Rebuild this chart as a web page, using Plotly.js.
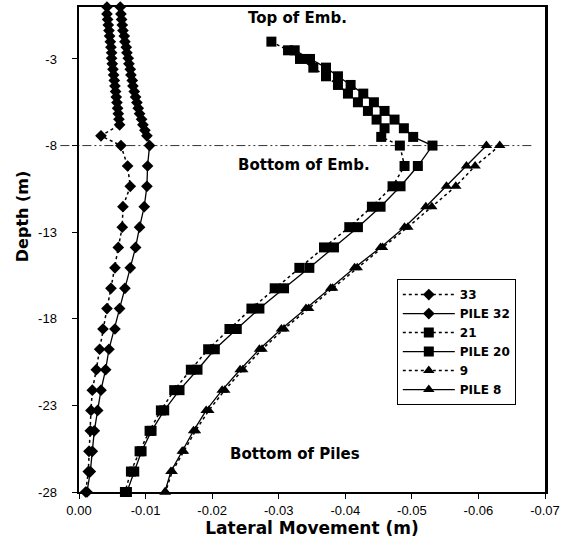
<!DOCTYPE html>
<html><head><meta charset="utf-8">
<script src="https://cdn.plot.ly/plotly-3.0.1.min.js"></script>
<style>html,body{margin:0;padding:0;background:#fff;}#chart{width:568px;height:540px;}</style>
</head><body><div id="chart"></div>
<script>
// ---- data (depth in m, lateral movement in m) ----
const pileDepths = [-8, -9.18, -10.35, -11.53, -12.71, -13.88, -15.06, -16.24, -17.41, -18.59, -19.76, -20.94, -22.12, -23.29, -24.47, -25.65, -26.82, -28];

const embDepth33 = [0, -0.4, -0.72, -1.04, -1.36, -1.68, -2.0, -2.32, -2.64, -2.96, -3.28, -3.6, -3.92, -4.24, -4.56, -4.88, -5.2, -5.52, -5.84, -6.16, -6.48, -6.8, -7.44];
const move33 = [-0.0042, -0.0042, -0.0043, -0.0044, -0.0045, -0.0046, -0.0047, -0.0048, -0.0049, -0.0049, -0.0050, -0.0051, -0.0052, -0.0053, -0.0054, -0.0055, -0.0056, -0.0057, -0.0058, -0.0059, -0.0060, -0.0061, -0.0033,
  -0.0063, -0.0073, -0.0077, -0.0066, -0.0065, -0.0059, -0.0054, -0.0048, -0.0042, -0.0036, -0.0031, -0.0026, -0.0020, -0.0018, -0.0017, -0.0015, -0.0014, -0.0010];

const embDepth32 = [0, -0.4, -0.72, -1.04, -1.36, -1.68, -2.0, -2.32, -2.64, -2.96, -3.28, -3.6, -3.92, -4.24, -4.56, -4.88, -5.2, -5.52, -5.84, -6.16, -6.48, -6.8, -7.12, -7.44];
const move32 = [-0.0062, -0.0063, -0.0064, -0.0065, -0.0066, -0.0068, -0.0069, -0.0071, -0.0072, -0.0074, -0.0075, -0.0077, -0.0078, -0.0080, -0.0081, -0.0083, -0.0085, -0.0087, -0.0089, -0.0091, -0.0094, -0.0096, -0.0099, -0.0102,
  -0.0106, -0.0103, -0.0102, -0.0098, -0.0091, -0.0085, -0.0077, -0.0069, -0.0061, -0.0054, -0.0045, -0.0040, -0.0033, -0.0028, -0.0023, -0.0020, -0.0017, -0.0012];

const embDepth21 = [-2, -2.5, -3, -3.5, -4, -4.5, -5, -5.5, -6, -6.5, -7, -7.5];
const move21 = [-0.0289, -0.0314, -0.0332, -0.0352, -0.0371, -0.0389, -0.0404, -0.0419, -0.0434, -0.0447, -0.0459, -0.0454,
  -0.0482, -0.0489, -0.0471, -0.0440, -0.0406, -0.0368, -0.0331, -0.0294, -0.0259, -0.0226, -0.0194, -0.0168, -0.0143, -0.0123, -0.0106, -0.0091, -0.0078, -0.0069];

const embDepth20 = [-2.5, -3, -3.5, -4, -4.5, -5, -5.5, -6, -6.5, -7, -7.5];
const move20 = [-0.0324, -0.0347, -0.0371, -0.0389, -0.0408, -0.0427, -0.0443, -0.0459, -0.0474, -0.0488, -0.0502,
  -0.0531, -0.0509, -0.0483, -0.0453, -0.0419, -0.0383, -0.0346, -0.0308, -0.0271, -0.0237, -0.0204, -0.0178, -0.0151, -0.0128, -0.0109, -0.0094, -0.0083, -0.0072];

const move9 = [-0.0632, -0.0595, -0.0566, -0.0530, -0.0494, -0.0456, -0.0418, -0.0381, -0.0345, -0.0308, -0.0275, -0.0246, -0.0219, -0.0195, -0.0175, -0.0157, -0.0140, -0.0130];
const move8 = [-0.0612, -0.0582, -0.0552, -0.0521, -0.0489, -0.0453, -0.0414, -0.0378, -0.0341, -0.0304, -0.0271, -0.0242, -0.0215, -0.0191, -0.0172, -0.0155, -0.0138, -0.0129];

const seriesNames = ['33', 'PILE 32', '21', 'PILE 20', '9', 'PILE 8'];
const xTickVals = [0, -0.01, -0.02, -0.03, -0.04, -0.05, -0.06, -0.07];
const xTickText = ['0.00', '-0.01', '-0.02', '-0.03', '-0.04', '-0.05', '-0.06', '-0.07'];
const yTickVals = [-3, -8, -13, -18, -23, -28];
const yTickText = ['-3', '-8', '-13', '-18', '-23', '-28'];
const embBottomDepth = -8;

// ---- traces ----
function tr(name, x, y, symbol, size, dash, width) {
  return {
    type: 'scatter', mode: 'lines+markers', name: name, x: x, y: y, cliponaxis: false,
    line: {color: '#000', width: width, dash: dash},
    marker: {symbol: symbol, size: size, color: '#000'}
  };
}
const data = [
  tr(seriesNames[0], move33, embDepth33.concat(pileDepths), 'diamond', 9, 'dot', 1.5),
  tr(seriesNames[1], move32, embDepth32.concat(pileDepths), 'diamond', 9, 'solid', 1.3),
  tr(seriesNames[2], move21, embDepth21.concat(pileDepths), 'square', 10, 'dot', 1.5),
  tr(seriesNames[3], move20, embDepth20.concat(pileDepths), 'square', 10, 'solid', 1.3),
  tr(seriesNames[4], move9, pileDepths, 'triangle-up', 10, 'dot', 1.5),
  tr(seriesNames[5], move8, pileDepths, 'triangle-up', 10, 'solid', 1.3)
];

const boldFont = {family: 'DejaVu Sans', size: 15, color: '#000', weight: 700};
function note(text, x, y, font, angle) {
  return {text: text, xref: 'paper', yref: 'paper', x: x, y: y, xanchor: 'center', yanchor: 'middle',
          showarrow: false, font: font, textangle: angle || 0};
}
const layout = {
  width: 568, height: 540,
  margin: {l: 79, r: 23, t: 7, b: 48},
  paper_bgcolor: '#fff', plot_bgcolor: '#fff',
  showlegend: true, hovermode: false,
  font: {family: 'Liberation Sans', size: 13, color: '#000'},
  xaxis: {
    range: [0, -0.07], tickvals: xTickVals, ticktext: xTickText,
    showgrid: false, zeroline: false, showline: true, linecolor: '#000', linewidth: 2, mirror: true,
    ticks: 'outside', ticklen: 5, tickwidth: 1, tickcolor: '#000',
    tickfont: {family: 'Liberation Sans', size: 13, color: '#000'},
    title: {text: 'Lateral Movement (m)', font: {family: 'DejaVu Sans', size: 17, color: '#000', weight: 700}, standoff: 6}
  },
  yaxis: {
    range: [-28, 0], tickvals: yTickVals, ticktext: yTickText,
    showgrid: false, zeroline: false, showline: true, linecolor: '#000', linewidth: 2.5, mirror: true,
    ticks: 'outside', ticklen: 5, tickwidth: 1, tickcolor: '#000', ticklabelstandoff: 12,
    tickfont: {family: 'Liberation Sans', size: 13, color: '#000'}
  },
  legend: {
    x: 0.682, y: 0.439, xanchor: 'left', yanchor: 'top',
    bgcolor: '#fff', bordercolor: '#000', borderwidth: 1,
    font: {family: 'DejaVu Sans', size: 12, color: '#000', weight: 700},
    itemwidth: 52, tracegroupgap: 0
  },
  shapes: [{
    type: 'line', xref: 'paper', yref: 'y', x0: -0.04, x1: 0.974, y0: embBottomDepth, y1: embBottomDepth,
    line: {color: '#333', width: 1, dash: '9px,3px,2px,3px,2px,3px'}, layer: 'below'
  }],
  annotations: [
    note('Top of Emb.', 0.469, 0.977, boldFont),
    note('Bottom of Emb.', 0.483, 0.674, boldFont),
    note('Bottom of Piles', 0.4635, 0.078, boldFont),
    note('Depth (m)', -0.122, 0.569, {family: 'DejaVu Sans', size: 16, color: '#000', weight: 700}, -90)
  ]
};
Plotly.newPlot('chart', data, layout, {staticPlot: true, displayModeBar: false});
</script></body></html>
